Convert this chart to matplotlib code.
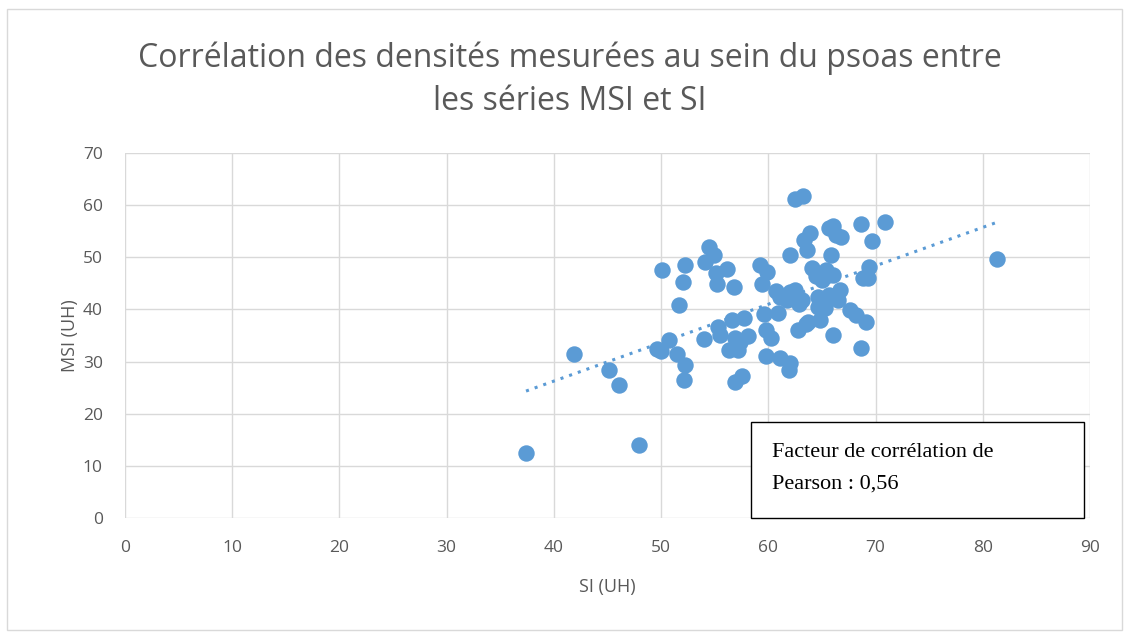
import numpy as np
import matplotlib.pyplot as plt
from matplotlib.patches import Rectangle

# SI (UH) and MSI (UH) density values
si = [37.4, 41.9, 45.1, 46.1, 47.9, 49.6, 50.0, 50.1, 50.7, 51.5,
      51.7, 52.0, 52.2, 52.2, 52.1, 54.0, 54.1, 54.5, 54.9, 55.1,
      55.2, 55.3, 55.5, 56.1, 56.3, 56.6, 56.8, 56.9, 56.9, 57.2,
      57.4, 57.5, 57.7, 58.1, 59.2, 59.4, 59.6, 59.8, 59.9, 59.8,
      60.2, 60.7, 60.9, 61.1, 61.7, 61.9, 62.0, 62.0, 62.5, 62.7,
      62.8, 62.9, 63.2, 63.3, 63.5, 63.6, 63.9, 64.1, 64.4, 64.6,
      64.6, 64.8, 65.0, 65.4, 65.7, 65.8, 66.0, 66.0, 66.0, 66.3,
      66.7, 66.8, 66.5, 67.6, 68.2, 68.6, 68.8, 68.6, 69.1, 69.4,
      69.7, 69.3, 70.9, 81.3, 65.7, 65.0, 65.3, 63.7, 62.0, 61.1,
      62.5, 63.1]
msi = [12.5, 31.5, 28.4, 25.5, 14.0, 32.4, 32.0, 47.6, 34.1, 31.5,
       40.9, 45.3, 48.5, 29.3, 26.5, 34.3, 49.1, 52.0, 50.4, 47.0,
       44.9, 36.6, 35.1, 47.8, 32.2, 38.0, 44.3, 34.5, 26.1, 32.2,
       33.8, 27.2, 38.4, 34.9, 48.5, 44.9, 39.1, 36.1, 47.2, 31.1,
       34.5, 43.5, 39.3, 30.7, 41.8, 28.4, 50.4, 29.7, 61.2, 42.4,
       36.1, 41.0, 61.8, 53.3, 37.2, 51.4, 54.7, 47.9, 46.4, 42.4,
       40.5, 38.0, 45.6, 47.6, 55.6, 50.4, 46.6, 56.0, 35.1, 54.3,
       43.7, 53.9, 41.8, 39.9, 38.9, 56.4, 46.0, 32.6, 37.6, 48.1,
       53.1, 46.0, 56.8, 49.7, 42.8, 41.8, 40.3, 37.6, 43.3, 42.4,
       43.7, 41.8]

pearson = "0,56"
color = "#5B9BD5"
text_gray = "#595959"

fig = plt.figure(figsize=(11.29, 6.34), dpi=100)
ax = fig.add_axes([0.1107, 0.183, 0.8548, 0.5757])

ax.scatter(si, msi, s=140, color=color, zorder=3, linewidths=0)

# linear trendline
coef = np.polyfit(si, msi, 1)
xs = np.array([min(si), max(si)])
ax.plot(xs, np.polyval(coef, xs), color=color, lw=2.2, ls=(0, (1, 2)), zorder=2)

ax.set_xlim(0, 90)
ax.set_ylim(0, 70)
ax.set_xticks(np.arange(0, 91, 10))
ax.set_yticks(np.arange(0, 71, 10))
ax.grid(color="#D9D9D9", lw=1)
ax.set_axisbelow(True)
ax.spines[:].set_visible(False)
ax.tick_params(length=0, labelsize=12.5, labelcolor=text_gray)
ax.tick_params(axis="x", pad=16)
ax.tick_params(axis="y", pad=16)
for lab in ax.get_xticklabels() + ax.get_yticklabels():
    lab.set_fontfamily("Open Sans")

ax.set_xlabel("SI (UH)", fontsize=13, color=text_gray, family="Open Sans", labelpad=16)
ax.set_ylabel("MSI (UH)", fontsize=13, color=text_gray, family="Open Sans", labelpad=3)

fig.text(0.505, 0.874, "Corrélation des densités mesurées au sein du psoas entre\nles séries MSI et SI",
         ha="center", va="center", fontsize=23, color=text_gray, family="Open Sans",
         linespacing=1.4)

# Pearson box
ax.add_patch(Rectangle((58.4, 0.0), 31.0, 18.4, facecolor="white", edgecolor="black",
                       lw=1, zorder=4, clip_on=False))
ax.text(60.3, 14.4, "Facteur de corrélation de\nPearson : " + pearson, fontsize=16,
        family="Liberation Serif", va="top", ha="left", zorder=5, linespacing=1.9)

# outer chart border
fig.add_artist(Rectangle((0.006, 0.006), 0.988, 0.98, transform=fig.transFigure,
                         fill=False, edgecolor="#D9D9D9", lw=1))

fig.savefig("out.png", dpi=100)
